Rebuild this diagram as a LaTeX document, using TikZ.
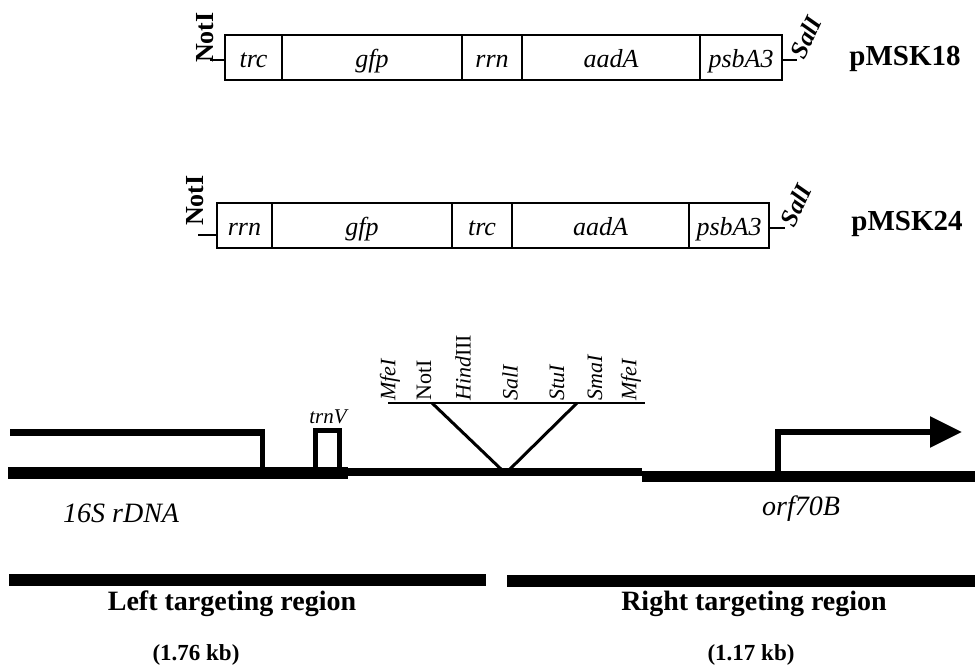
\documentclass[tikz,border=0pt]{standalone}
\usepackage{fontspec}
\setmainfont{Liberation Serif}
\usetikzlibrary{arrows.meta}
\newcommand\myfs[1]{\fontsize{#1}{#1}\selectfont}
\begin{document}
\begin{tikzpicture}[x=1pt,y=-1pt,
  seg/.style={draw, line width=2.5pt, minimum height=45pt, inner sep=0pt,
    text height=25.5pt, text depth=5.7pt, font={\myfs{26}\itshape}},
  tickline/.style={line width=2pt},
  enzA/.style={inner sep=0pt, anchor=west, rotate=90, font={\myfs{26}\bfseries}},
  enzB/.style={inner sep=0pt, anchor=west, rotate=65, font={\myfs{25}\bfseries\itshape}},
  plabel/.style={inner sep=0pt, anchor=base, font={\myfs{29}\bfseries}},
  site/.style={inner sep=0pt, anchor=west, rotate=90, font={\myfs{22}}},
  gene/.style={inner sep=0pt, anchor=base west, font={\myfs{28}\itshape}},
  region/.style={inner sep=0pt, anchor=base, font={\myfs{28}\bfseries}},
  kb/.style={inner sep=0pt, anchor=base, font={\myfs{23}\bfseries}},
  thick line/.style={line width=#1, line cap=butt}
]
\path[use as bounding box, fill=white] (0,0) rectangle (977,667);

% ---------- pMSK18 ----------
\node[seg, minimum width=57pt]  (trcA) at (253.5,57.5) {trc};
\node[seg, minimum width=180pt] (gfpA) at (372,57.5)   {gfp};
\node[seg, minimum width=60pt]  (rrnA) at (492,57.5)   {rrn};
\node[seg, minimum width=178pt] (aadA) at (611,57.5)   {aadA};
\node[seg, minimum width=82pt]  (psbA) at (741,57.5)   {psbA3};
\coordinate (nA) at (210,60);
\coordinate (sA) at (797,60);
\draw[tickline] (nA) -- (nA -| trcA.west);
\draw[tickline] (psbA.east |- sA) -- (sA);
\node[enzA] (notA) at (205,63) {NotI};
\node[enzB] (salA) at (797,57) {SalI};
\node[plabel] (p18) at (905,65) {pMSK18};

% ---------- pMSK24 ----------
\node[seg, minimum width=55pt]  (rrnB) at (244.5,225.5) {rrn};
\node[seg, minimum width=180pt] (gfpB) at (362,225.5)   {gfp};
\node[seg, minimum width=60pt]  (trcB) at (482,225.5)   {trc};
\node[seg, minimum width=177pt] (aadB) at (600.5,225.5) {aadA};
\node[seg, minimum width=80pt]  (psbB) at (729,225.5)   {psbA3};
\coordinate (nB) at (198,235);
\coordinate (sB) at (785,228);
\draw[tickline] (nB) -- (nB -| rrnB.west);
\draw[tickline] (psbB.east |- sB) -- (sB);
\node[enzA] (notB) at (195,226) {NotI};
\node[enzB] (salB) at (787,225) {SalI};
\node[plabel] (p24) at (907,230) {pMSK24};

% ---------- chromosome region ----------
\coordinate (m0) at (8,473);
\coordinate (m1) at (348,473);
\coordinate (m2) at (348,472);
\coordinate (m3) at (642,472);
\coordinate (m4) at (642,476);
\coordinate (m5) at (975,476);
\draw[thick line=12pt] (m0) -- (m1);
\draw[thick line=8pt] (m2) -- (m3);
\draw[thick line=11pt] (m4) -- (m5);

% 16S rDNA
\coordinate (r0) at (10,432);
\coordinate (r1) at (264.5,432);
\coordinate (r2) at (262,429);
\coordinate (r3) at (262,470);
\draw[thick line=7pt] (r0) -- (r1);
\draw[thick line=5pt] (r2) -- (r3);

% trnV
\coordinate (t0) at (315.5,472);
\coordinate (t1) at (315.5,430.5);
\coordinate (t2) at (339.5,430.5);
\coordinate (t3) at (339.5,472);
\draw[line width=5pt, line join=miter] (t0) -- (t1) -- (t2) -- (t3);
\node[inner sep=0pt, anchor=base, font={\myfs{21}\itshape}] (trnV) at (328,423) {trnV};

% orf70B arrow
\coordinate (a0) at (778,473);
\coordinate (a1) at (778,432);
\coordinate (a2) at (962,432);
\draw[line width=5.5pt, line join=miter, -{Triangle[length=32pt,width=30pt]}] (a0) -- (a1) -- (a2);

% insertion site
\coordinate (h0) at (388,403);
\coordinate (h1) at (645,403);
\coordinate (v1) at (432,403);
\coordinate (v2) at (503,471);
\coordinate (v3) at (577,403);
\coordinate (v4) at (508,471);
\draw[line width=2.5pt] (h0) -- (h1);
\draw[line width=3pt] (v1) -- (v2);
\draw[line width=3pt] (v3) -- (v4);
\node[site] (mfe1) at (390,401) {\itshape MfeI};
\node[site] (not1) at (424,401) {NotI};
\node[site] (hin1) at (463,401) {\textit{Hind}III};
\node[site] (sal1) at (510,401) {\itshape SalI};
\node[site] (stu1) at (557,401) {\itshape StuI};
\node[site] (sma1) at (595,401) {\itshape SmaI};
\node[site] (mfe2) at (631,401) {\itshape MfeI};

\node[gene] (rdna) at (63,522) {16S rDNA};
\node[gene] (orf)  at (762,515) {orf70B};

% targeting regions
\coordinate (L0) at (9,580);
\coordinate (L1) at (486,580);
\coordinate (R0) at (507,581);
\coordinate (R1) at (975,581);
\draw[thick line=12pt] (L0) -- (L1);
\draw[thick line=12pt] (R0) -- (R1);
\node[region] (lreg) at (232,610) {Left targeting region};
\node[region] (rreg) at (754,610) {Right targeting region};
\node[kb] (lkb) at (196,660) {(1.76 kb)};
\node[kb] (rkb) at (751,660) {(1.17 kb)};
\end{tikzpicture}
\end{document}
